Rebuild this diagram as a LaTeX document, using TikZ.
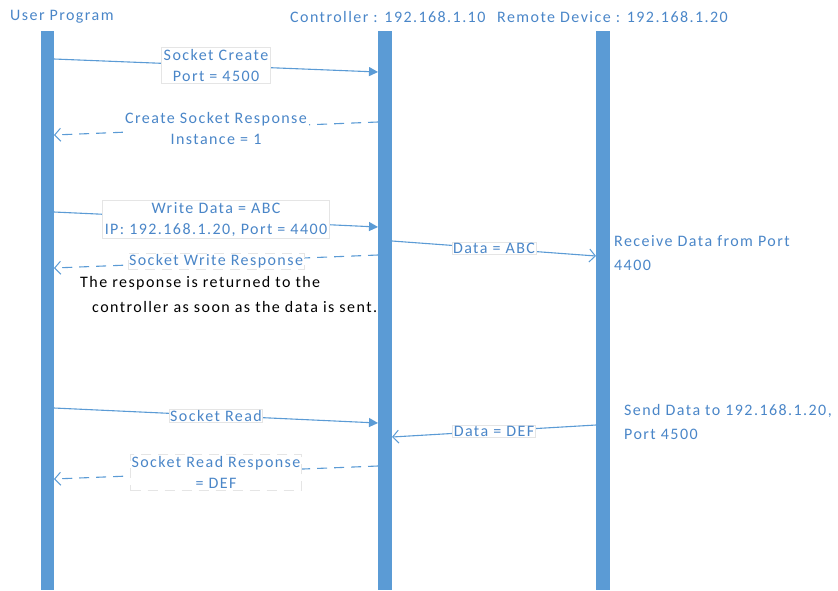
\documentclass[tikz,border=0pt]{standalone}
\usepackage{fontspec}
\setmainfont{Carlito}[LetterSpace=9]
\usetikzlibrary{arrows.meta}
\definecolor{bar}{HTML}{5B9BD5}
\definecolor{txt}{HTML}{4A86C8}
\tikzset{
  lifebar/.style={fill=bar, draw=none},
  title/.style={text=txt, font=\fontsize{16}{18}\selectfont, inner sep=0pt},
  lbl/.style={text=txt, font=\fontsize{16}{21}\selectfont, align=center, fill=white, draw=gray!20, line width=0.6pt, inner sep=2pt},
  lblplain/.style={text=txt, font=\fontsize{16}{21}\selectfont, align=center, fill=white, inner sep=2pt},
  side/.style={text=txt, font=\fontsize{16}{24}\selectfont, align=left, inner sep=0pt},
  req/.style={draw=bar, line width=1.1pt, -{Triangle[length=9pt,width=9pt]}},
  resp/.style={draw=bar, line width=1.1pt, dash pattern=on 10pt off 7pt, -{Straight Barb[length=6pt,width=13pt,line width=1pt]}},
  msg/.style={draw=bar, line width=1.1pt, -{Straight Barb[length=6pt,width=13pt,line width=1pt]}},
}
\begin{document}
\begin{tikzpicture}[x=1pt,y=-1pt]
\useasboundingbox (0,0) rectangle (838,590);
% titles
\node[title, anchor=west] (tu) at (10,17) {User Program};
\node[title, anchor=west] (tc) at (290,17) {Controller : 192.168.1.10};
\node[title, anchor=west] (tr) at (497,17) {Remote Device : 192.168.1.20};
% lifelines
\path[lifebar] (41,31) rectangle (54,590);
\path[lifebar] (378,31) rectangle (392,590);
\path[lifebar] (596,31) rectangle (610,590);
% anchor coordinates on lifelines
\coordinate (u1) at (54,59);   \coordinate (c1) at (378,72);
\coordinate (c2) at (378,122); \coordinate (u2) at (54,135);
\coordinate (u3) at (54,212);  \coordinate (c3) at (378,227);
\coordinate (c4) at (378,255); \coordinate (u4) at (54,268);
\coordinate (c5) at (392,241); \coordinate (r5) at (596,256);
\coordinate (u6) at (54,408);  \coordinate (c6) at (378,423);
\coordinate (r7) at (596,425); \coordinate (c7) at (392,437);
\coordinate (c8) at (378,466); \coordinate (u8) at (54,479);
% messages
\draw[req] (u1) -- (c1) node[lbl, midway] (m1) {Socket Create\\Port = 4500};
\draw[resp] (c2) -- (u2) node[lblplain, midway] (m2) {Create Socket Response\\Instance = 1};
\draw[req] (u3) -- (c3) node[lbl, midway] (m3) {Write Data = ABC\\IP: 192.168.1.20, Port = 4400};
\draw[resp] (c4) -- (u4) node[lbl, midway, inner ysep=1pt, inner xsep=1pt] (m4) {Socket Write Response};
\draw[msg] (c5) -- (r5) node[lbl, midway, inner ysep=1pt, inner xsep=1pt] (m5) {Data = ABC};
\draw[req] (u6) -- (c6) node[lbl, midway, inner ysep=1pt, inner xsep=1pt] (m6) {Socket Read};
\draw[msg] (r7) -- (c7) node[lbl, midway, inner ysep=1pt, inner xsep=1pt] (m7) {Data = DEF};
\draw[resp] (c8) -- (u8) node[lbl, midway, inner xsep=1pt] (m8) {Socket Read Response\\= DEF};
% notes
\node[font=\fontsize{16}{25}\selectfont, align=left, inner sep=0pt, anchor=north west] (note) at (80,276)
  {The response is returned to the\\\hspace*{12pt}controller as soon as the data is sent.};
\node[side, anchor=north west] (recv) at (614,235) {Receive Data from Port\\4400};
\node[side, anchor=north west] (send) at (624,404) {Send Data to 192.168.1.20,\\Port 4500};
\end{tikzpicture}
\end{document}
